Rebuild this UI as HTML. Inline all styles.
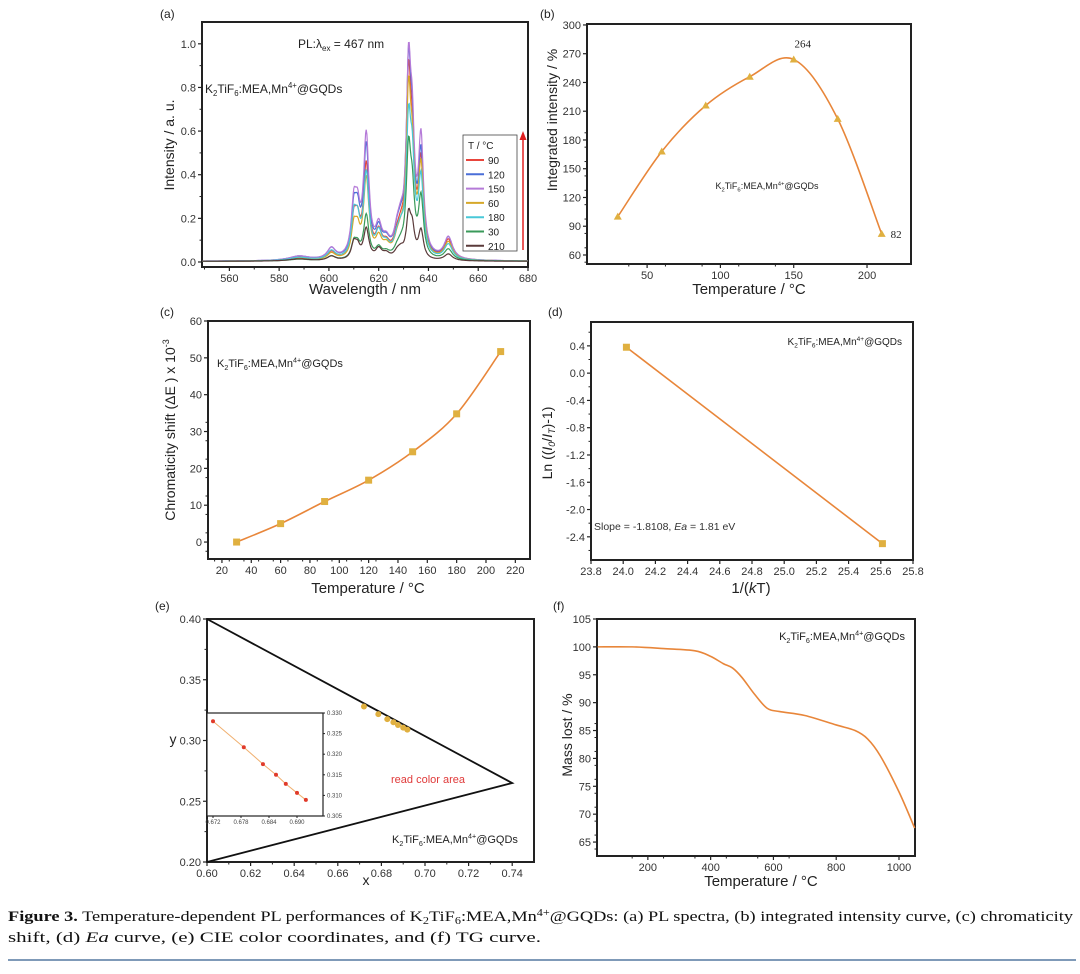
<!DOCTYPE html>
<html><head><meta charset="utf-8"><style>
body{margin:0;background:#fff;}
svg{display:block;font-family:"Liberation Sans",sans-serif;}
</style></head><body>
<svg id="fig" width="1080" height="974" viewBox="0 0 1080 974" xmlns="http://www.w3.org/2000/svg">
<rect width="1080" height="974" fill="#fff"/>
</svg>
<script>
// ---------- DATA ----------
// (a) PL spectra: Lorentzian peak model, per-series peak heights
const peakCenters=[588,601,610,611.5,615,620,623,627.5,629,632,633.5,637,648];
const peakWidths=[5,2,1.2,1.2,1.3,1.5,1.8,1.6,1.4,1.1,1.1,1.2,2];
const seriesLabels=["90","120","150","60","180","30","210"];
const seriesColors=["#e8453c","#4a6fd8","#b57ad8","#d6a82a","#48c8d8","#3a9a5a","#5a3a3a"];
const h90=[0.015,0.035,0.16,0.13,0.42,0.1,0.05,0.07,0.07,0.74,0.38,0.42,0.09];
const h120=[0.02,0.05,0.2,0.16,0.5,0.11,0.06,0.09,0.08,0.78,0.42,0.45,0.1];
const h150=[0.02,0.05,0.22,0.17,0.55,0.12,0.06,0.09,0.09,0.78,0.45,0.52,0.1];
const h60=[0.012,0.03,0.13,0.1,0.36,0.08,0.045,0.06,0.06,0.68,0.35,0.4,0.08];
const h180=[0.015,0.04,0.17,0.13,0.38,0.1,0.05,0.07,0.07,0.55,0.35,0.35,0.07];
const h30=[0.008,0.02,0.07,0.05,0.2,0.045,0.025,0.035,0.035,0.46,0.24,0.27,0.05];
const h210=[0.01,0.02,0.07,0.05,0.14,0.045,0.025,0.03,0.03,0.18,0.12,0.13,0.03];
const seriesHeights=[h90,h120,h150,h60,h180,h30,h210];
// (b) integrated intensity
const bTemps=[30,60,90,120,150,180,210];
const bValues=[100,168,216,246,264,202,82];
// (c) chromaticity shift
const cTemps=[30,60,90,120,150,180,210];
const cValues=[0,5,11,16.8,24.5,34.8,51.7];
// (d) Ea fit
const dX=[24.02,25.61];
const dY=[0.38,-2.50];
// (e) CIE
const eTriX=[0.60,0.74,0.60];
const eTriY=[0.40,0.265,0.20];
const eX=[0.672,0.6786,0.6827,0.6855,0.6876,0.690,0.6919];
const eY=[0.328,0.3217,0.3176,0.315,0.3128,0.3106,0.3089];
// (f) TG curve
const fT=[40,150,250,350,400,440,470,500,540,580,620,700,800,860,900,940,1000,1050];
const fM=[100,100,99.7,99.3,98.3,97,96.2,94.5,91.5,89,88.4,87.7,86,85,83.5,80.5,74,67.5];

// ---------- HELPERS ----------
const NS="http://www.w3.org/2000/svg";
const svg=document.getElementById('fig');
function el(tag,attrs,parent){const e=document.createElementNS(NS,tag);for(const k in attrs)e.setAttribute(k,attrs[k]);(parent||svg).appendChild(e);return e;}
function lin(d0,d1,r0,r1){return v=>r0+(v-d0)/(d1-d0)*(r1-r0);}
function smooth(pts){let d="M"+pts[0][0]+","+pts[0][1];for(let i=0;i<pts.length-1;i++){const p0=pts[Math.max(0,i-1)],p1=pts[i],p2=pts[i+1],p3=pts[Math.min(pts.length-1,i+2)];d+=" C"+(p1[0]+(p2[0]-p0[0])/6)+","+(p1[1]+(p2[1]-p0[1])/6)+" "+(p2[0]-(p3[0]-p1[0])/6)+","+(p2[1]-(p3[1]-p1[1])/6)+" "+p2[0]+","+p2[1];}return d;}
function text(x,y,s,size,attrs,parent){const t=el('text',Object.assign({x:x,y:y,'font-size':size,fill:'#222'},attrs||{}),parent);t.textContent=s;return t;}
function compound(x,y,size,anchor,parent){
  const t=el('text',{x:x,y:y,'font-size':size,fill:'#222','text-anchor':anchor||'start'},parent);
  const parts=[["K",0],["2",1],["TiF",0],["6",1],[":MEA,Mn",0],["4+",2],["@GQDs",0]];
  let prev=0;
  parts.forEach(p=>{const s=el('tspan',{},t);s.textContent=p[0];let want=0;
    if(p[1]==1){s.setAttribute('font-size',size*0.65);want=size*0.25;}
    else if(p[1]==2){s.setAttribute('font-size',size*0.65);want=-size*0.4;}
    s.setAttribute('dy',want-prev);prev=want;});
  return t;
}
function axes(name,box,xd,yd,xticks,yticks,xfmt,yfmt,xminor,yminor){
  const g=el('g',{});
  
  
  const X=lin(xd[0],xd[1],box.l,box.r),Y=lin(yd[0],yd[1],box.b,box.t);
  el('rect',{x:box.l,y:box.t,width:box.r-box.l,height:box.b-box.t,fill:'none',stroke:'#222','stroke-width':2},g);
  xticks.forEach(v=>{const x=X(v);el('line',{x1:x,x2:x,y1:box.b,y2:box.b+4,stroke:'#222','stroke-width':1.2},g);text(x,box.b+15,xfmt(v),11,{'text-anchor':'middle',fill:'#333'},g);});
  yticks.forEach(v=>{const y=Y(v);el('line',{x1:box.l,x2:box.l-4,y1:y,y2:y,stroke:'#222','stroke-width':1.2},g);text(box.l-6,y+4,yfmt(v),11,{'text-anchor':'end',fill:'#333'},g);});
  if(xminor)for(let i=0;i<xticks.length+1;i++){const v=xticks[0]+(i-0.5)*xminor;const x=X(v);if(x>box.l&&x<box.r)el('line',{x1:x,x2:x,y1:box.b,y2:box.b+2.5,stroke:'#222'},g);}
  if(yminor)for(let i=0;i<yticks.length+1;i++){const v=yticks[0]+(i-0.5)*yminor;const y=Y(v);if(y>box.t&&y<box.b)el('line',{x1:box.l,x2:box.l-2.5,y1:y,y2:y,stroke:'#222'},g);}
  return {X,Y,g};
}
function range(a,b,s){const r=[];for(let v=a;v<=b+s/1000;v+=s)r.push(+v.toFixed(4));return r;}
const ORANGE="#e8863a",MARK="#e0b040";
function panelLabel(x,y,s){const t=text(x,y,s,12,{fill:'#222'});}
function ytitle(x,y,s,size){const t=text(x,y,s,size||14,{'text-anchor':'middle',transform:'rotate(-90 '+x+' '+y+')'});return t;}

// ---------- (a) ----------
panelLabel(160,18,"(a)");
const A=axes('pl-spectra-axes',{l:202,r:528,t:22,b:267},[549,680],[-0.023,1.1],range(560,680,20),range(0,1,0.2),v=>String(v),v=>v.toFixed(1),20,0.2);
const clipA=el('clipPath',{id:'clipA'});el('rect',{x:202,y:22,width:326,height:245},clipA);
seriesHeights.forEach((hs,si)=>{
  let pts=[];
  for(let w=549;w<=680;w+=0.25){let v=0.003;peakCenters.forEach((c,k)=>{const g=peakWidths[k];v+=hs[k]*g*g/((w-c)*(w-c)+g*g);});pts.push(A.X(w).toFixed(1)+","+A.Y(v).toFixed(1));}
  const p=el('polyline',{points:pts.join(" "),fill:'none',stroke:seriesColors[si],'stroke-width':1.2,'clip-path':'url(#clipA)'});
  
  
});
ytitle(174,145,"Intensity / a. u.",14);
text(365,294,"Wavelength / nm",15,{'text-anchor':'middle'});
{const t=el('text',{x:298,y:48,'font-size':12,fill:'#222'});
 t.innerHTML='PL:λ<tspan font-size="8" dy="3">ex</tspan><tspan dy="-3"> = 467 nm</tspan>';}
{const t=compound(205,93,12,'start');}
{const lg=el('g',{});
 el('rect',{x:463,y:135,width:54,height:116,fill:'#fff',stroke:'#444','stroke-width':0.8},lg);
 text(468,149,"T / °C",10,{},lg);
 seriesLabels.forEach((s,i)=>{const y=160+i*14.3;const li=el('line',{x1:466,x2:484,y1:y,y2:y,stroke:seriesColors[i],'stroke-width':2},lg);text(488,y+4,s,10,{},lg);});
 el('line',{x1:523,x2:523,y1:250,y2:138,stroke:'#e02020','stroke-width':1.5},lg);
 el('polygon',{points:'519.5,140 526.5,140 523,131',fill:'#e02020'},lg);
}

// ---------- (b) ----------
panelLabel(540,18,"(b)");
const B=axes('intensity-axes',{l:587,r:911,t:24,b:264},[9,230],[50.6,301],[50,100,150,200],range(60,300,30),v=>String(v),v=>String(v),25,15);
{const p=el('path',{d:smooth(bTemps.map((t,i)=>[B.X(t),B.Y(bValues[i])])),fill:'none',stroke:ORANGE,'stroke-width':1.6});}
bTemps.forEach((t,i)=>{const x=B.X(t),y=B.Y(bValues[i]);const m=el('polygon',{points:(x-4)+","+(y+3)+" "+(x+4)+","+(y+3)+" "+x+","+(y-4),fill:MARK});});
text(B.X(150)+9,B.Y(264)-12,"264",11,{'text-anchor':'middle','font-family':'Liberation Serif'});
text(B.X(210)+9,B.Y(82)+4,"82",11,{'font-family':'Liberation Serif'});
{const t=compound(767,189,9,'middle');}
ytitle(557,120,"Integrated intensity / %",14);
text(749,294,"Temperature / °C",15,{'text-anchor':'middle'});

// ---------- (c) ----------
panelLabel(160,316,"(c)");
const C=axes('chromaticity-axes',{l:208,r:530,t:321,b:559},[10.5,230],[-4.6,60],range(20,220,20),range(0,60,10),v=>String(v),v=>String(v),10,5);
{const p=el('path',{d:smooth(cTemps.map((t,i)=>[C.X(t),C.Y(cValues[i])])),fill:'none',stroke:ORANGE,'stroke-width':1.6});}
cTemps.forEach((t,i)=>{const m=el('rect',{x:C.X(t)-3.5,y:C.Y(cValues[i])-3.5,width:7,height:7,fill:MARK});});
{const t=compound(217,367,11,'start');}
{const t=el('text',{x:175,y:430,'font-size':14,fill:'#222','text-anchor':'middle',transform:'rotate(-90 175 430)'});t.innerHTML='Chromaticity shift (ΔE ) x 10<tspan font-size="9" dy="-6">-3</tspan>';}
text(368,593,"Temperature / °C",15,{'text-anchor':'middle'});

// ---------- (d) ----------
panelLabel(548,316,"(d)");
const D=axes('ea-axes',{l:591,r:913,t:322,b:560},[23.8,25.8],[-2.74,0.75],range(23.8,25.8,0.2),range(-2.4,0.4,0.4),v=>v.toFixed(1),v=>v.toFixed(1),null,0.4);
{const p=el('line',{x1:D.X(dX[0]),y1:D.Y(dY[0]),x2:D.X(dX[1]),y2:D.Y(dY[1]),stroke:ORANGE,'stroke-width':1.6});}
dX.forEach((x,i)=>{const m=el('rect',{x:D.X(x)-3.5,y:D.Y(dY[i])-3.5,width:7,height:7,fill:MARK});});
{const t=compound(902,345,10,'end');}
{const t=el('text',{x:594,y:530,'font-size':10.5,fill:'#333'});t.innerHTML='Slope = -1.8108, <tspan font-style="italic">Ea</tspan> = 1.81 eV';}
{const t=el('text',{x:552,y:443,'font-size':14,fill:'#222','text-anchor':'middle',transform:'rotate(-90 552 443)'});t.innerHTML='Ln ((<tspan font-style="italic">I</tspan><tspan font-size="9" dy="3" font-style="italic">0</tspan><tspan dy="-3">/</tspan><tspan font-style="italic">I</tspan><tspan font-size="9" dy="3" font-style="italic">T</tspan><tspan dy="-3">)-1)</tspan>';}
{const t=el('text',{x:751,y:593,'font-size':15,fill:'#222','text-anchor':'middle'});t.innerHTML='1/(<tspan font-style="italic">k</tspan>T)';}

// ---------- (e) ----------
panelLabel(155,610,"(e)");
const E=axes('cie-axes',{l:207,r:534,t:619,b:862},[0.6,0.75],[0.2,0.4],range(0.6,0.74,0.02),range(0.2,0.4,0.05),v=>v.toFixed(2),v=>v.toFixed(2),0.02,0.05);
{const p=el('polyline',{points:eTriX.map((x,i)=>E.X(x)+","+E.Y(eTriY[i])).join(" "),fill:'none',stroke:'#111','stroke-width':1.8});}
eX.forEach((x,i)=>{const m=el('circle',{cx:E.X(x),cy:E.Y(eY[i]),r:3,fill:MARK});});
text(391,783,"read color area",11,{fill:'#e03a3a'});
{const t=compound(392,843,11,'start');}
text(173,744,"y",14,{'text-anchor':'middle'});
text(366,885,"x",14,{'text-anchor':'middle'});
// inset
{const ig=el('g',{});
 const bx={l:207,r:323,t:713,b:816};
 el('rect',{x:bx.l,y:bx.t,width:bx.r-bx.l,height:bx.b-bx.t,fill:'#fff',stroke:'#222','stroke-width':1.2},ig);
 const IX=lin(0.672,0.690,213,297),IY=lin(0.305,0.330,816,713);
 [0.672,0.678,0.684,0.690].forEach(v=>{el('line',{x1:IX(v),x2:IX(v),y1:bx.b,y2:bx.b+2,stroke:'#222'},ig);text(IX(v),bx.b+8,v.toFixed(3),6,{'text-anchor':'middle',fill:'#444'},ig);});
 [0.305,0.310,0.315,0.320,0.325,0.330].forEach(v=>{el('line',{x1:bx.r,x2:bx.r+2,y1:IY(v),y2:IY(v),stroke:'#222'},ig);text(bx.r+4,IY(v)+2,v.toFixed(3),6,{fill:'#444'},ig);});
 el('polyline',{points:eX.map((x,i)=>IX(x)+","+IY(eY[i])).join(" "),fill:'none',stroke:'#f0b070','stroke-width':1},ig);
 eX.forEach((x,i)=>{const m=el('circle',{cx:IX(x),cy:IY(eY[i]),r:2,fill:'#e03a2a'},ig);});
}

// ---------- (f) ----------
panelLabel(553,610,"(f)");
const F=axes('tg-axes',{l:597,r:915,t:619,b:856},[38,1051],[62.5,105],range(200,1000,200),range(65,105,5),v=>String(v),v=>String(v),100,2.5);
{const p=el('path',{d:smooth(fT.map((t,i)=>[F.X(t),F.Y(fM[i])])),fill:'none',stroke:ORANGE,'stroke-width':1.6});}
{const t=compound(905,640,11,'end');}
ytitle(572,735,"Mass lost / %",14);
text(761,886,"Temperature / °C",15,{'text-anchor':'middle'});

// ---------- caption ----------
{const t=el('text',{x:8,y:921,'font-size':15,'font-family':'Liberation Serif',fill:'#111',textLength:1065,lengthAdjust:'spacingAndGlyphs'});
 t.innerHTML='<tspan font-weight="bold">Figure 3.</tspan> Temperature-dependent PL performances of K<tspan font-size="10" dy="3">2</tspan><tspan dy="-3">TiF</tspan><tspan font-size="10" dy="3">6</tspan><tspan dy="-3">:MEA,Mn</tspan><tspan font-size="10" dy="-5">4+</tspan><tspan dy="5">@GQDs: (a) PL spectra, (b) integrated intensity curve, (c) chromaticity</tspan>';
 }
{const t=el('text',{x:8,y:942,'font-size':15,'font-family':'Liberation Serif',fill:'#111',textLength:533,lengthAdjust:'spacingAndGlyphs'});
 t.innerHTML='shift, (d) <tspan font-style="italic">Ea</tspan> curve, (e) CIE color coordinates, and (f) TG curve.';
 }
{const l=el('line',{x1:8,x2:1076,y1:960,y2:960,stroke:'#7f9ab8','stroke-width':2});}
</script>
</body></html>
